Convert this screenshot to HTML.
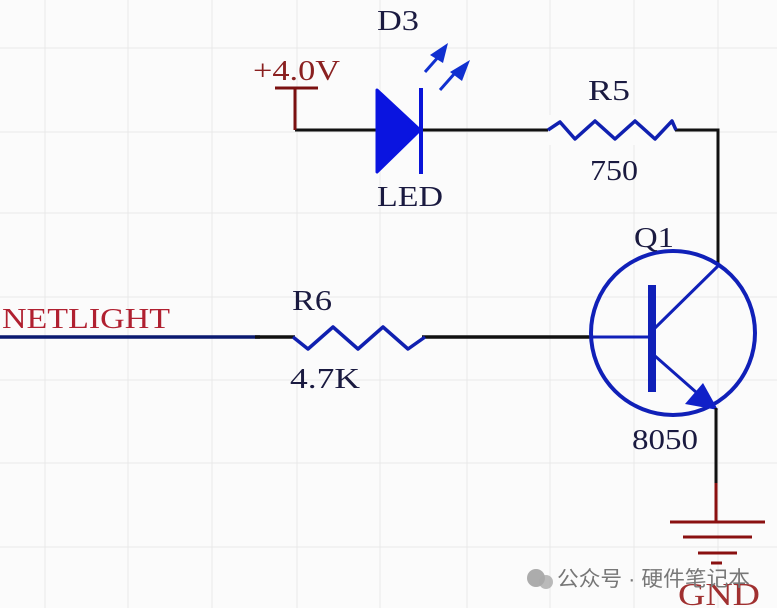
<!DOCTYPE html>
<html><head><meta charset="utf-8"><style>
html,body{margin:0;padding:0;background:#fbfbfb;}
svg{display:block;}
text{font-family:"Liberation Serif",serif;}
</style></head><body>
<svg width="777" height="608" viewBox="0 0 777 608" xmlns="http://www.w3.org/2000/svg">
<rect width="777" height="608" fill="#fbfbfb"/>
<g stroke="#e8e8e8" stroke-width="1">
<line x1="45" y1="0" x2="45" y2="608"/><line x1="128" y1="0" x2="128" y2="608"/><line x1="212" y1="0" x2="212" y2="608"/><line x1="297" y1="0" x2="297" y2="608"/><line x1="380" y1="0" x2="380" y2="608"/><line x1="467" y1="0" x2="467" y2="608"/><line x1="550" y1="0" x2="550" y2="608"/><line x1="634" y1="0" x2="634" y2="608"/><line x1="718" y1="0" x2="718" y2="608"/>
<line x1="0" y1="48" x2="777" y2="48"/><line x1="0" y1="132" x2="777" y2="132"/><line x1="0" y1="213" x2="777" y2="213"/><line x1="0" y1="297" x2="777" y2="297"/><line x1="0" y1="380" x2="777" y2="380"/><line x1="0" y1="463" x2="777" y2="463"/><line x1="0" y1="547" x2="777" y2="547"/>
</g>
<polyline points="295,130 718,130 718,265" fill="none" stroke="#111" stroke-width="3"/>
<line x1="275" y1="88" x2="318" y2="88" stroke="#7a1010" stroke-width="3"/>
<line x1="295" y1="88" x2="295" y2="130" stroke="#7a1010" stroke-width="3"/>
<text x="253" y="80" font-size="29" fill="#8a2020" textLength="87" lengthAdjust="spacingAndGlyphs">+4.0V</text>
<polygon points="377,90 420,130 377,172" fill="#0a14e0" stroke="#0a14e0" stroke-width="3" stroke-linejoin="round"/>
<line x1="421" y1="88" x2="421" y2="174" stroke="#0a14d8" stroke-width="4"/>
<line x1="425" y1="72" x2="440" y2="55" stroke="#1030d0" stroke-width="3"/>
<polygon points="448,43 430,55 443,63" fill="#1030d0"/>
<line x1="440" y1="90" x2="455" y2="73" stroke="#1030d0" stroke-width="3"/>
<polygon points="470,60 450,72 462,81" fill="#1030d0"/>
<text x="377" y="30" font-size="29" fill="#1a1a40" textLength="42" lengthAdjust="spacingAndGlyphs">D3</text>
<text x="377" y="206" font-size="29" fill="#1a1a40" textLength="66" lengthAdjust="spacingAndGlyphs">LED</text>
<rect x="548" y="115" width="127" height="30" fill="#fbfbfb"/>
<polyline points="548,130 560,122 575,139 595,121 615,139 635,121 655,139 672,121 676,130" fill="none" stroke="#1020b0" stroke-width="3.5" stroke-linejoin="round"/>
<text x="588" y="100" font-size="29" fill="#1a1a40" textLength="42" lengthAdjust="spacingAndGlyphs">R5</text>
<text x="590" y="180" font-size="29" fill="#1a1a40" textLength="48" lengthAdjust="spacingAndGlyphs">750</text>
<line x1="0" y1="337" x2="260" y2="337" stroke="#0a1a70" stroke-width="3.5"/>
<line x1="255" y1="337" x2="295" y2="337" stroke="#111" stroke-width="3.5"/>
<line x1="422" y1="337" x2="590" y2="337" stroke="#111" stroke-width="3.5"/>
<polyline points="293,337 308,349 333,327 358,349 383,327 408,349 425,337" fill="none" stroke="#1020b0" stroke-width="3.5" stroke-linejoin="round"/>
<text x="2" y="328" font-size="29" fill="#b02030" textLength="168" lengthAdjust="spacingAndGlyphs">NETLIGHT</text>
<text x="292" y="310" font-size="29" fill="#1a1a40" textLength="40" lengthAdjust="spacingAndGlyphs">R6</text>
<text x="290" y="388" font-size="29" fill="#1a1a40" textLength="70" lengthAdjust="spacingAndGlyphs">4.7K</text>
<circle cx="673" cy="333" r="82" fill="none" stroke="#1020b8" stroke-width="4"/>
<line x1="590" y1="337" x2="652" y2="337" stroke="#1020b8" stroke-width="3"/>
<line x1="652" y1="285" x2="652" y2="392" stroke="#1020b8" stroke-width="8"/>
<line x1="655" y1="328" x2="718" y2="266" stroke="#1020b8" stroke-width="3"/>
<line x1="655" y1="356" x2="705" y2="400" stroke="#1020b8" stroke-width="3"/>
<polygon points="718,410 685,404 703,383" fill="#1020c8"/>
<line x1="716" y1="408" x2="716" y2="483" stroke="#111" stroke-width="3"/>
<text x="634" y="247" font-size="29" fill="#1a1a40" textLength="40" lengthAdjust="spacingAndGlyphs">Q1</text>
<text x="632" y="449" font-size="29" fill="#1a1a40" textLength="66" lengthAdjust="spacingAndGlyphs">8050</text>
<line x1="716" y1="483" x2="716" y2="522" stroke="#8a1010" stroke-width="3"/>
<line x1="670" y1="522" x2="765" y2="522" stroke="#8a1010" stroke-width="3"/>
<line x1="683" y1="537" x2="752" y2="537" stroke="#8a1010" stroke-width="3"/>
<line x1="698" y1="553" x2="737" y2="553" stroke="#8a1010" stroke-width="3"/>
<line x1="711" y1="563" x2="722" y2="563" stroke="#8a1010" stroke-width="3"/>
<text x="678" y="605" font-size="32" fill="#a03030" textLength="82" lengthAdjust="spacingAndGlyphs">GND</text>
<circle cx="536" cy="578" r="9" fill="#999" opacity="0.8"/>
<circle cx="546" cy="582" r="7" fill="#aaa" opacity="0.8"/>
<text x="557" y="586" font-size="21" fill="#777" textLength="193" lengthAdjust="spacingAndGlyphs" style="font-family:'Liberation Sans','Noto Sans CJK SC',sans-serif">公众号 · 硬件笔记本</text>
</svg>
</body></html>
